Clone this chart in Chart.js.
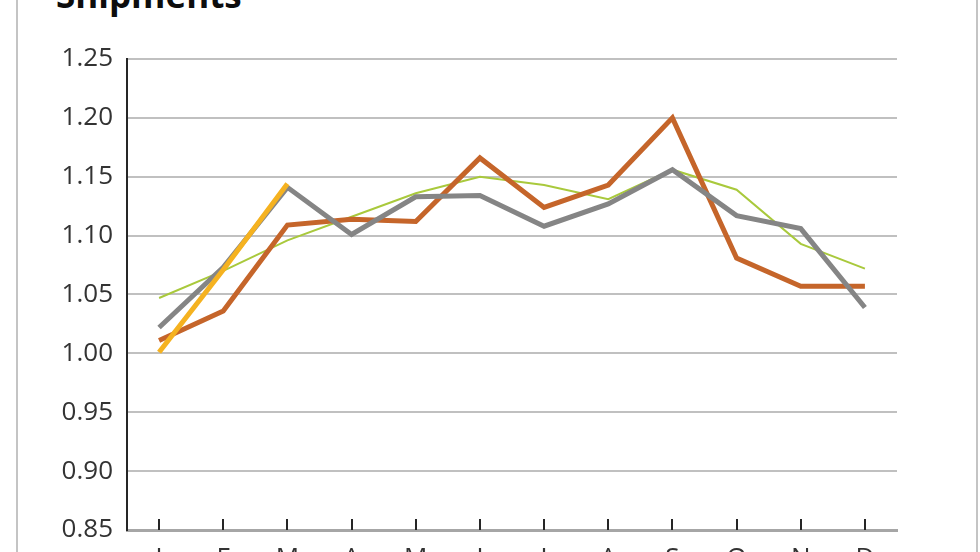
<!DOCTYPE html>
<html>
<head>
<meta charset="utf-8">
<script src="https://cdn.jsdelivr.net/npm/chart.js@4/dist/chart.umd.min.js"></script>
<style>
  html, body { margin: 0; padding: 0; background: #fff; overflow: hidden; }
  body { width: 980px; height: 552px; position: relative; }
  .frame {
    position: absolute; left: 16px; top: -20px; width: 962px; height: 620px;
    box-sizing: border-box; border: 2px solid #c4c4c4;
  }
  .title {
    position: absolute; left: 56px; top: -29px;
    font: bold 35px "Open Sans", sans-serif; color: #0d0d0d;
  }
  #chart { position: absolute; left: 0; top: -40px; }
</style>
</head>
<body>
<div class="frame"></div>
<div class="title">Shipments</div>
<canvas id="chart" width="980" height="640"></canvas>
<script>
const months = ['J', 'F', 'M', 'A', 'M', 'J', 'J', 'A', 'S', 'O', 'N', 'D'];
const grayValues = [1.022, 1.073, 1.141, 1.101, 1.133, 1.134, 1.108, 1.127, 1.156, 1.117, 1.106, 1.039];
const brownValues = [1.011, 1.036, 1.109, 1.114, 1.112, 1.166, 1.124, 1.143, 1.200, 1.081, 1.057, 1.057];
const greenValues = [1.047, 1.070, 1.096, 1.116, 1.136, 1.150, 1.143, 1.131, 1.156, 1.139, 1.093, 1.072];
const yellowValues = [1.001, 1.071, 1.144, null, null, null, null, null, null, null, null, null];
const yMin = 0.85, yMax = 1.25, yStep = 0.05;

const FONT = '"Open Sans", sans-serif';

// short tick marks pointing up from the x axis, at each category
const innerTicks = {
  id: 'innerTicks',
  afterDatasetsDraw(chart) {
    const x = chart.scales.x, ctx = chart.ctx;
    const bottom = chart.chartArea.bottom;
    ctx.save();
    ctx.strokeStyle = '#262626';
    ctx.lineWidth = 2;
    months.forEach((m, i) => {
      const px = Math.round(x.getPixelForTick(i));
      ctx.beginPath();
      ctx.moveTo(px, bottom);
      ctx.lineTo(px, bottom - 11);
      ctx.stroke();
    });
    ctx.restore();
  },
};

const line = (data, color, width, order) => ({
  data: data,
  borderColor: color,
  backgroundColor: color,
  borderWidth: width,
  pointRadius: 0,
  tension: 0,
  fill: false,
  spanGaps: false,
  order: order,
});

new Chart(document.getElementById('chart'), {
  type: 'line',
  data: {
    labels: months,
    datasets: [
      line(yellowValues, '#f5b220', 5, 0),
      line(grayValues, '#858585', 5, 1),
      line(brownValues, '#c5652a', 5, 2),
      line(greenValues, '#a9c93c', 2, 3),
    ],
  },
  options: {
    responsive: false,
    devicePixelRatio: 1,
    animation: false,
    layout: {padding: {top: 99, right: 83, bottom: 30, left: 0}},
    plugins: {
      legend: {display: false},
      title: {display: false},
      tooltip: {enabled: false},
    },
    scales: {
      x: {
        offset: true,
        grid: {display: true, drawOnChartArea: false, drawTicks: false},
        border: {display: true, color: '#a6a6a6', width: 3},
        ticks: {font: {family: FONT, size: 26}, color: '#333333', padding: 13},
        afterFit: (scale) => { scale.height = 40; },
      },
      y: {
        min: yMin,
        max: yMax,
        grid: {color: '#c0c0c0', lineWidth: 2, drawTicks: false},
        border: {display: true, color: '#262626', width: 2},
        ticks: {
          stepSize: yStep,
          font: {family: FONT, size: 26},
          color: '#333333',
          padding: 14,
          callback: (v) => Number(v).toFixed(2),
        },
        afterFit: (scale) => { scale.width = 127; },
      },
    },
  },
  plugins: [innerTicks],
});
</script>
</body>
</html>
